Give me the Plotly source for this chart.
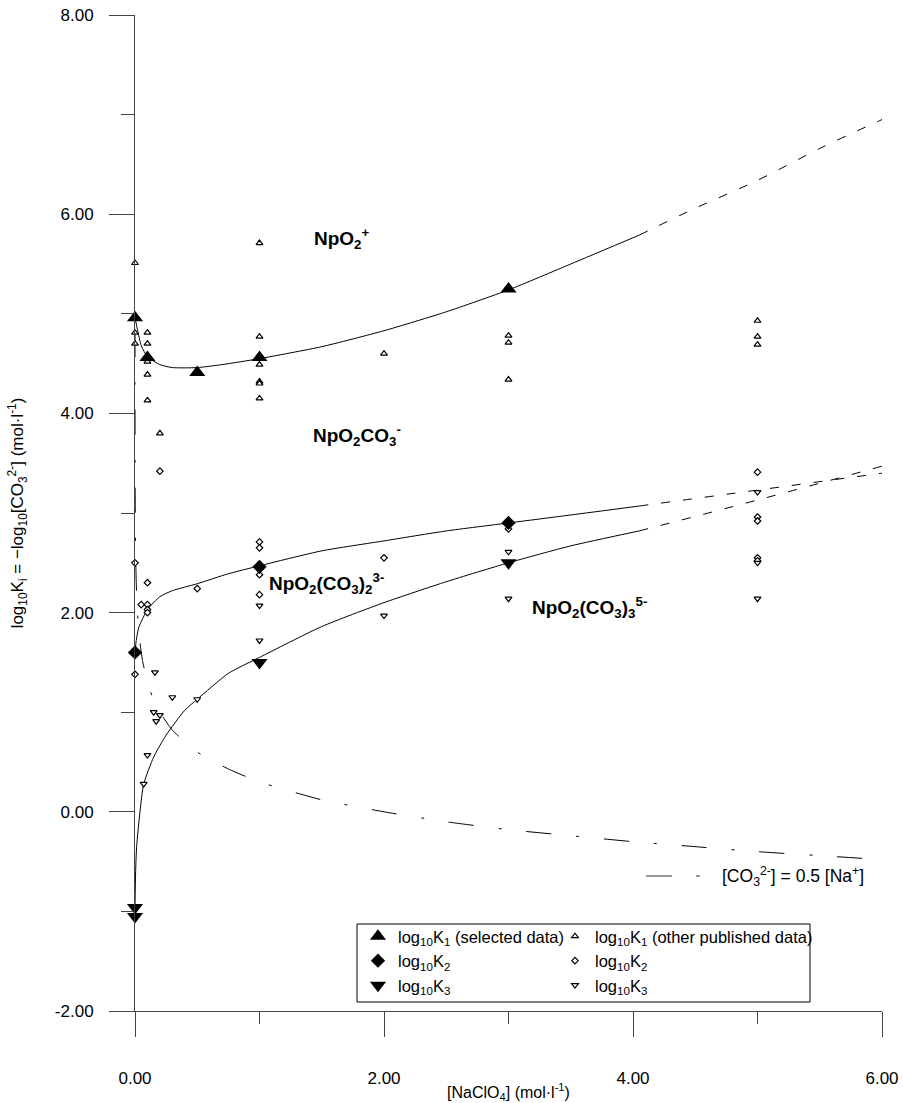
import plotly.graph_objects as go

# ---------------- data ----------------
# selected data (filled markers)
sel_k1_x = [0, 0.1, 0.5, 1.0, 3.0]
sel_k1_y = [4.96, 4.56, 4.41, 4.56, 5.25]
sel_k2_x = [0, 1.0, 3.0]
sel_k2_y = [1.60, 2.46, 2.90]
sel_k3_x = [0, 0, 1.0, 3.0]
sel_k3_y = [-0.96, -1.05, 1.50, 2.50]

# other published data (open markers)
oth_k1_x = [0, 0, 0, 0.1, 0.1, 0.1, 0.1, 0.1, 0.2, 1.0, 1.0, 1.0, 1.0, 1.0, 1.0, 2.0, 3.0, 3.0, 3.0, 5.0, 5.0, 5.0]
oth_k1_y = [5.51, 4.81, 4.70, 4.81, 4.70, 4.52, 4.39, 4.13, 3.80, 5.71, 4.77, 4.49, 4.32, 4.30, 4.15, 4.60, 4.78, 4.71, 4.34, 4.93, 4.77, 4.69]
oth_k2_x = [0, 0, 0.05, 0.1, 0.1, 0.1, 0.1, 0.2, 0.5, 1.0, 1.0, 1.0, 1.0, 2.0, 3.0, 5.0, 5.0, 5.0, 5.0, 5.0]
oth_k2_y = [2.50, 1.38, 2.08, 2.30, 2.08, 2.03, 2.00, 3.42, 2.24, 2.71, 2.65, 2.38, 2.18, 2.55, 2.84, 3.41, 2.96, 2.92, 2.55, 2.52]
oth_k3_x = [0.07, 0.1, 0.15, 0.16, 0.17, 0.2, 0.3, 0.5, 1.0, 1.0, 2.0, 3.0, 3.0, 5.0, 5.0, 5.0]
oth_k3_y = [0.28, 0.57, 1.00, 1.40, 0.91, 0.97, 1.15, 1.13, 1.72, 2.07, 1.97, 2.61, 2.14, 3.21, 2.50, 2.14]

# fitted curves (solid part, then dashed extrapolation)
k1_fit_x = [0, 0.02, 0.05, 0.1, 0.2, 0.3, 0.5, 0.7, 1.0, 1.5, 2.0, 2.5, 3.0, 3.5, 4.05]
k1_fit_y = [4.96, 4.84, 4.68, 4.57, 4.49, 4.46, 4.46, 4.49, 4.55, 4.67, 4.83, 5.02, 5.24, 5.50, 5.79]
k1_ext_x = [4.05, 4.5, 5.0, 5.5, 6.0]
k1_ext_y = [5.79, 6.06, 6.34, 6.66, 6.95]

k2_fit_x = [0, 0.01, 0.03, 0.1, 0.2, 0.3, 0.5, 0.75, 1.0, 1.5, 2.0, 2.5, 3.0, 3.5, 4.05]
k2_fit_y = [1.60, 1.72, 1.85, 2.03, 2.16, 2.22, 2.29, 2.39, 2.47, 2.62, 2.72, 2.82, 2.90, 2.98, 3.07]
k2_ext_x = [4.05, 5.0, 6.0]
k2_ext_y = [3.07, 3.23, 3.40]

k3_fit_x = [0, 0.005, 0.013, 0.04, 0.07, 0.15, 0.25, 0.4, 0.5, 0.75, 1.0, 1.5, 2.0, 2.5, 3.0, 3.5, 4.05]
k3_fit_y = [-0.96, -0.60, -0.35, 0.00, 0.28, 0.55, 0.77, 1.02, 1.13, 1.39, 1.55, 1.86, 2.10, 2.31, 2.50, 2.67, 2.82]
k3_ext_x = [4.05, 5.0, 6.0]
k3_ext_y = [2.82, 3.13, 3.47]

# [CO3 2-] = 0.5 [Na+] line
co3_x = [0.00003, 0.0001, 0.001, 0.005, 0.01, 0.02, 0.04, 0.06, 0.1, 0.15, 0.2, 0.3, 0.5, 0.75, 1.0,
         1.5, 2.0, 2.5, 3.0, 3.5, 4.0, 4.5, 5.0, 5.5, 6.0]
co3_y = [4.82, 4.30, 3.30, 2.60, 2.30, 2.00, 1.70, 1.52, 1.30, 1.12, 1.00, 0.82, 0.60, 0.43, 0.30,
         0.12, 0.00, -0.10, -0.18, -0.24, -0.30, -0.35, -0.40, -0.44, -0.48]

x_ticks = [0, 2, 4, 6]
y_ticks = [-2, 0, 2, 4, 6, 8]

FONT = "Arial, 'Liberation Sans', sans-serif"

fig = go.Figure()

line_style = dict(color="black", width=1)
for xs, ys in [(k1_fit_x, k1_fit_y), (k2_fit_x, k2_fit_y), (k3_fit_x, k3_fit_y)]:
    fig.add_trace(go.Scatter(x=xs, y=ys, mode="lines", line=dict(line_style, shape="spline", smoothing=0.6),
                             showlegend=False, hoverinfo="skip", cliponaxis=False))
for xs, ys in [(k1_ext_x, k1_ext_y), (k2_ext_x, k2_ext_y), (k3_ext_x, k3_ext_y)]:
    fig.add_trace(go.Scatter(x=xs, y=ys, mode="lines", line=dict(color="black", width=1, dash="9px,13px", shape="spline"),
                             showlegend=False, hoverinfo="skip", cliponaxis=False))
fig.add_trace(go.Scatter(x=co3_x, y=co3_y, mode="lines",
                         line=dict(color="black", width=1, dash="25px,25px,3px,25px", shape="spline", smoothing=0.5),
                         showlegend=False, hoverinfo="skip"))

def open_marker(sym, size):
    return dict(symbol=sym, size=size, color="white", line=dict(color="black", width=1.2))

fig.add_trace(go.Scatter(x=oth_k1_x, y=oth_k1_y, mode="markers", marker=open_marker("triangle-up", 6),
                         name="log<sub>10</sub>K<sub>1</sub> (other published data)", legend="legend2",
                         legendgroup="d", cliponaxis=False))
fig.add_trace(go.Scatter(x=oth_k2_x, y=oth_k2_y, mode="markers", marker=open_marker("diamond", 5),
                         name="log<sub>10</sub>K<sub>2</sub>", legend="legend2", legendgroup="e", cliponaxis=False))
fig.add_trace(go.Scatter(x=oth_k3_x, y=oth_k3_y, mode="markers", marker=open_marker("triangle-down", 6),
                         name="log<sub>10</sub>K<sub>3</sub>", legend="legend2", legendgroup="f", cliponaxis=False))

fig.add_trace(go.Scatter(x=sel_k1_x, y=sel_k1_y, mode="markers",
                         marker=dict(symbol="triangle-up", size=14, color="black"),
                         name="log<sub>10</sub>K<sub>1</sub> (selected data)", legend="legend",
                         legendgroup="a", cliponaxis=False))
fig.add_trace(go.Scatter(x=sel_k2_x, y=sel_k2_y, mode="markers",
                         marker=dict(symbol="diamond", size=11, color="black"),
                         name="log<sub>10</sub>K<sub>2</sub>", legend="legend", legendgroup="b", cliponaxis=False))
fig.add_trace(go.Scatter(x=sel_k3_x, y=sel_k3_y, mode="markers",
                         marker=dict(symbol="triangle-down", size=14, color="black"),
                         name="log<sub>10</sub>K<sub>3</sub>", legend="legend", legendgroup="c", cliponaxis=False))

# species labels
lab_font = dict(family=FONT, size=19, color="black")
for txt, x, y in [("<b>NpO<sub>2</sub><sup>+</sup></b>", 1.66, 5.76),
                  ("<b>NpO<sub>2</sub>CO<sub>3</sub><sup>-</sup></b>", 1.78, 3.78),
                  ("<b>NpO<sub>2</sub>(CO<sub>3</sub>)<sub>2</sub><sup>3-</sup></b>", 1.54, 2.29),
                  ("<b>NpO<sub>2</sub>(CO<sub>3</sub>)<sub>3</sub><sup>5-</sup></b>", 3.65, 2.05)]:
    fig.add_annotation(x=x, y=y, text=txt, showarrow=False, font=lab_font, xanchor="center", yanchor="middle")

# legend box & CO3 key (paper coords from page-pixel positions of the plot area)
def px_x(p):
    return (p - 135) / 747.0

def px_y(p):
    return (1011 - p) / 996.0

fig.add_shape(type="rect", xref="paper", yref="paper", x0=px_x(357), x1=px_x(810), y0=px_y(1002), y1=px_y(924),
              line=dict(color="black", width=1), fillcolor="white", layer="below")
fig.add_shape(type="line", xref="paper", yref="paper", x0=px_x(646), x1=px_x(672), y0=px_y(876), y1=px_y(876),
              line=dict(color="#555", width=1.2))
fig.add_shape(type="line", xref="paper", yref="paper", x0=px_x(696), x1=px_x(700), y0=px_y(876), y1=px_y(876),
              line=dict(color="#555", width=1.2))
fig.add_annotation(xref="paper", yref="paper", x=px_x(720), y=px_y(876), xanchor="left", yanchor="middle",
                   text="[CO<sub>3</sub><sup>2-</sup>] = 0.5 [Na<sup>+</sup>]", showarrow=False,
                   font=dict(family=FONT, size=17.5, color="black"))

leg_common = dict(bgcolor="rgba(0,0,0,0)", borderwidth=0, font=dict(family=FONT, size=16.5, color="black"),
                  xanchor="left", yanchor="top", itemclick=False, traceorder="normal", tracegroupgap=1)
fig.update_layout(
    width=903, height=1103,
    margin=dict(l=135, r=21, t=15, b=92),
    paper_bgcolor="white", plot_bgcolor="white",
    font=dict(family=FONT, size=16, color="black"),
    legend=dict(leg_common, x=px_x(358), y=px_y(919)),
    legend2=dict(leg_common, x=px_x(555), y=px_y(919)),
    xaxis=dict(range=[0, 6], tickvals=x_ticks, ticktext=[f"{v:.2f}" for v in x_ticks], automargin=False,
               showgrid=False, zeroline=False, showline=True, linecolor="#444", linewidth=1,
               ticks="outside", ticklen=25, tickcolor="#444", tickwidth=1, ticklabeloverflow="allow",
               minor=dict(dtick=1, ticks="outside", ticklen=12, tickcolor="#444", tickwidth=1, showgrid=False),
               ticklabelstandoff=27, tickfont=dict(family=FONT, size=17),
               title=dict(text="[NaClO<sub>4</sub>] (mol·l<sup>-1</sup>)", font=dict(family=FONT, size=16), standoff=6)),
    yaxis=dict(range=[-2, 8], tickvals=y_ticks, ticktext=[f"{v:.2f}" for v in y_ticks], automargin=False,
               showgrid=False, zeroline=False, showline=True, linecolor="#444", linewidth=1,
               ticks="outside", ticklen=25, tickcolor="#444", tickwidth=1, ticklabeloverflow="allow",
               minor=dict(dtick=1, ticks="outside", ticklen=13, tickcolor="#444", tickwidth=1, showgrid=False),
               ticklabelstandoff=12, tickfont=dict(family=FONT, size=17),
               title=dict(text="log<sub>10</sub>K<sub>i</sub> = −log<sub>10</sub>[CO<sub>3</sub><sup>2-</sup>] (mol·l<sup>-1</sup>)",
                          font=dict(family=FONT, size=17), standoff=26)),
)

# remove the default 8px page margin so the 903x1103 figure fills the window exactly
fig.write_html("out.html", config={"displayModeBar": False},
               post_script="document.body.style.margin='0';document.body.style.overflow='hidden';")
